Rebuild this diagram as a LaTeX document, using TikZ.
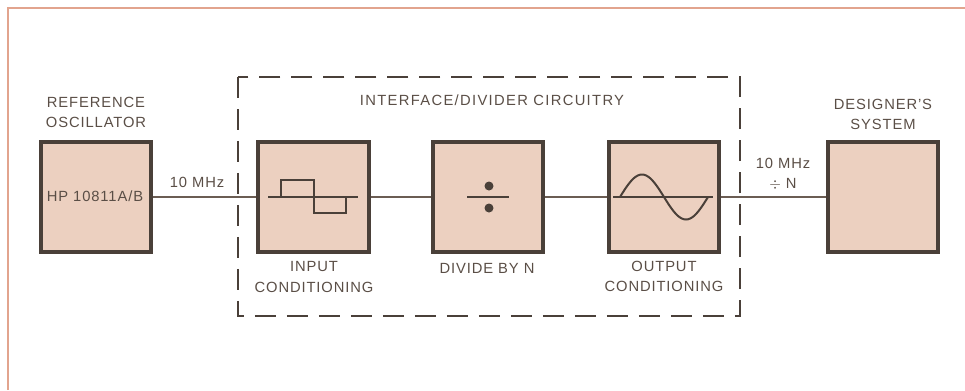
\documentclass[tikz,border=0pt]{standalone}
\usepackage{fontspec}
\setmainfont[LetterSpace=6]{Liberation Sans}
\definecolor{boxfill}{HTML}{ECD0C0}
\definecolor{boxline}{HTML}{4A4039}
\definecolor{wireline}{HTML}{6B5D53}
\definecolor{labeltext}{HTML}{5A4E46}
\definecolor{pageline}{HTML}{E2A48E}
\tikzset{
  block/.style={draw=boxline,fill=boxfill,line width=0.08cm,minimum size=2.22cm,inner sep=0pt},
  caption/.style={text=labeltext,align=center,inner sep=0pt,font=\fontsize{8.4}{11.6}\selectfont},
  wire/.style={draw=wireline,line width=0.03cm},
  glyph/.style={draw=boxline,line width=0.03cm}
}

\begin{document}
\begin{tikzpicture}[x=0.02cm,y=-0.02cm]
\useasboundingbox (0,0) rectangle (965,390);

% page edge
\draw [pageline,line width=0.03cm] (8,390) -- (8,8) -- (965,8);

% dashed enclosure
\draw [boxline,line width=0.03cm,dash pattern=on 0.42cm off 0.22cm]
   (238,77) rectangle (740,316);

% blocks
\node [block] (refosc) at (96,197) {};
\node [block] (input) at (313.5,197) {};
\node [block] (divide) at (488,197) {};
\node [block] (output) at (664,197) {};
\node [block] (system) at (883,197) {};

% connectors
\draw [wire] (refosc) -- (input);
\draw [wire] (input) -- (divide);
\draw [wire] (divide) -- (output);
\draw [wire] (output) -- (system);

% input waveform
\draw [glyph] (268,197) -- (358,197);
\draw [glyph] (281,197) -- (281,180) -- (314,180) -- (314,213) -- (346,213) -- (346,197);

% divide sign
\draw [glyph,line width=0.04cm] (467,197) -- (509,197);
\fill [boxline] (489,186) circle (0.09cm);
\fill [boxline] (489,208) circle (0.09cm);

% output waveform
\draw [glyph] (613,197) -- (713,197);
\draw [glyph,line width=0.04cm,smooth,domain=0:88,samples=45]
   plot ({620+\x},{197-22.5*sin(\x/88*360)});

% labels
\node [caption] (reflabel) at (96,112.5) {REFERENCE\\OSCILLATOR};
\node [caption] (hplabel) at (95,196) {HP 10811A/B};
\node [caption] (inlabel) at (197,182) {10 MHz};
\node [caption] (boxlabel) at (492,100) {\addfontfeature{LetterSpace=9}INTERFACE/DIVIDER CIRCUITRY};
\node [caption] (inputlabel) at (314,277) {INPUT\\CONDITIONING};
\node [caption] (dividelabel) at (487,268) {DIVIDE BY N};
\node [caption] (outputlabel) at (664,276.5) {OUTPUT\\CONDITIONING};
\node [caption] (outlabel) at (783,174) {10 MHz\\$\div$ N};
\node [caption] (systemlabel) at (883,114.5) {DESIGNER'S\\SYSTEM};

\end{tikzpicture}
\end{document}
